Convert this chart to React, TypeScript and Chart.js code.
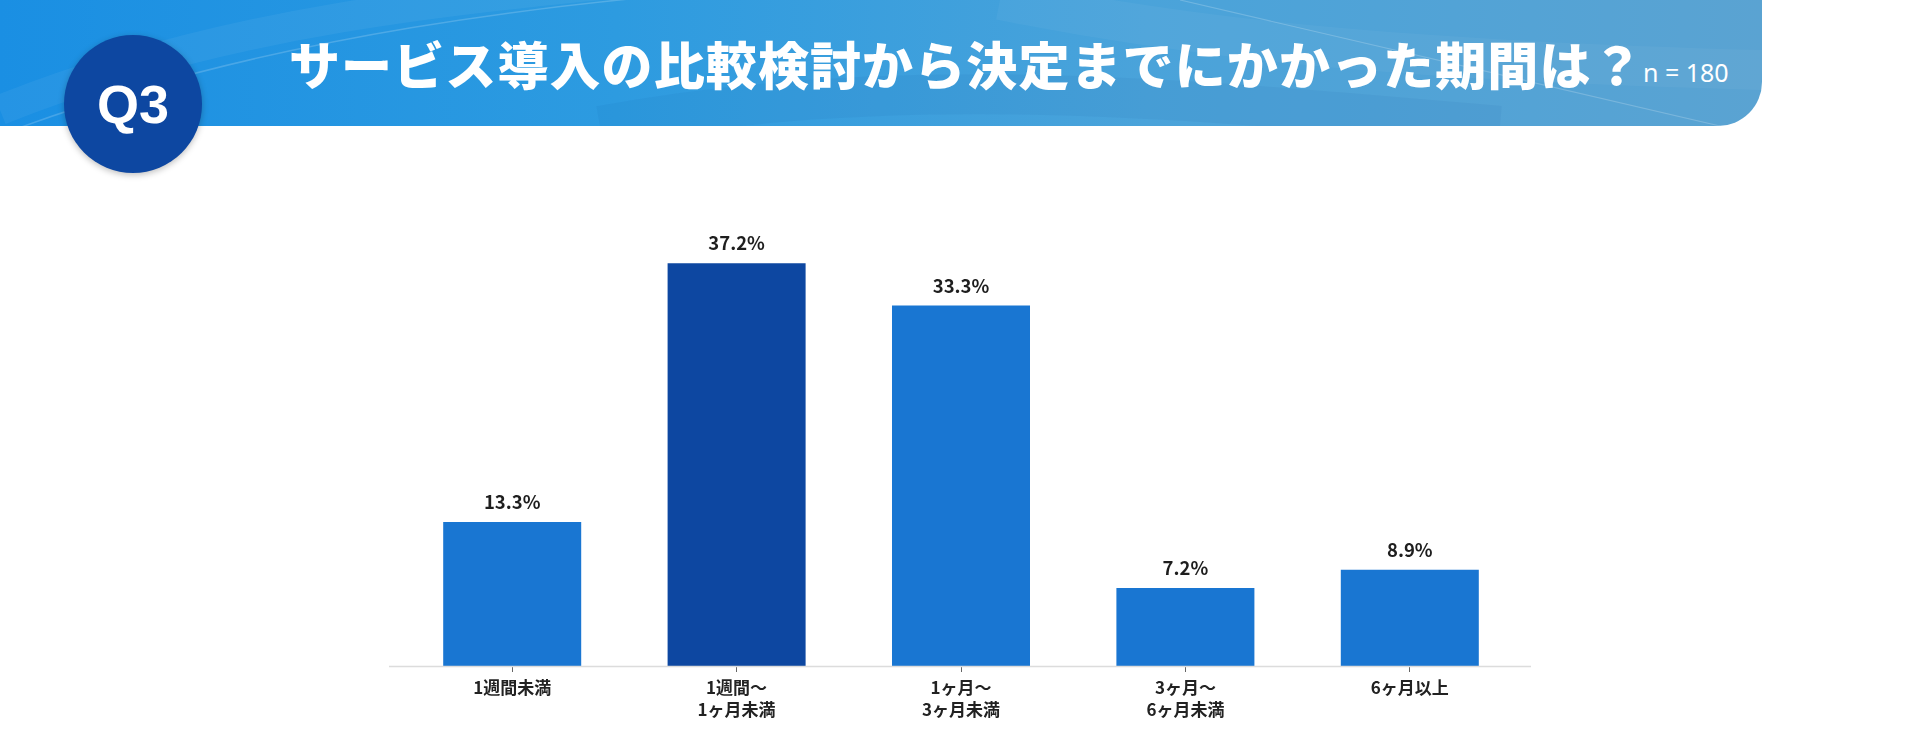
import React, { useRef, useEffect } from 'react';
import { Chart, registerables } from 'chart.js';

Chart.register(...registerables);

// ---- data ----
const categories: string[][] = [
  ['1週間未満'],
  ['1週間〜', '1ヶ月未満'],
  ['1ヶ月〜', '3ヶ月未満'],
  ['3ヶ月〜', '6ヶ月未満'],
  ['6ヶ月以上'],
];
const shares = [13.3, 37.2, 33.3, 7.2, 8.9];
const highlightIndex = 1;
const yMax = 40;

const TITLE = 'サービス導入の比較検討から決定までにかかった期間は？';
const SAMPLE = 'n = 180';
const QNO = 'Q3';

const JP = '"Noto Sans CJK JP", "Noto Sans", sans-serif';

// value labels above bars + extended baseline
const barLabels = {
  id: 'barLabels',
  afterDatasetsDraw(chart: Chart) {
    const { ctx, chartArea } = chart;
    ctx.save();
    ctx.strokeStyle = '#dcdcdc';
    ctx.lineWidth = 1.5;
    ctx.beginPath();
    ctx.moveTo(chartArea.left - 11, chartArea.bottom + 0.5);
    ctx.lineTo(chartArea.right + 9, chartArea.bottom + 0.5);
    ctx.stroke();

    ctx.fillStyle = '#1e1e1e';
    ctx.font = `bold 18.5px ${JP}`;
    ctx.textAlign = 'center';
    ctx.textBaseline = 'middle';
    chart.getDatasetMeta(0).data.forEach((bar: any, i: number) => {
      ctx.fillText(`${shares[i].toFixed(1)}%`, bar.x, bar.y - 20);
    });
    ctx.restore();
  },
};

const BarChart: React.FC = () => {
  const canvasRef = useRef<HTMLCanvasElement>(null);
  const chartRef = useRef<Chart | null>(null);

  useEffect(() => {
    if (!canvasRef.current) return;
    if (chartRef.current) chartRef.current.destroy();

    chartRef.current = new Chart(canvasRef.current, {
      type: 'bar',
      data: {
        labels: categories,
        datasets: [
          {
            data: shares,
            backgroundColor: shares.map((_, i) => (i === highlightIndex ? '#0d47a1' : '#1976d2')),
            borderWidth: 0,
            barPercentage: 0.615,
            categoryPercentage: 1,
          },
        ],
      },
      options: {
        responsive: true,
        maintainAspectRatio: false,
        animation: false,
        layout: { padding: { left: 400, right: 398, top: 83, bottom: 0 } },
        plugins: {
          legend: { display: false },
          tooltip: { enabled: false },
        },
        scales: {
          x: {
            grid: {
              offset: false,
              drawOnChartArea: false,
              drawTicks: true,
              tickLength: 6,
              color: '#666',
            },
            border: { display: false },
            ticks: {
              color: '#222',
              padding: 4,
              font: { family: JP, size: 17, weight: 'bold', lineHeight: 1.3 },
            },
            afterFit: (scale: any) => {
              scale.height = 78;
            },
          },
          y: {
            display: false,
            min: 0,
            max: yMax,
          },
        },
      },
      plugins: [barLabels],
    });

    return () => {
      if (chartRef.current) {
        chartRef.current.destroy();
        chartRef.current = null;
      }
    };
  }, []);

  return (
    <div style={{ position: 'absolute', left: 0, top: 150, width: 1920, height: 594 }}>
      <canvas ref={canvasRef} />
    </div>
  );
};

const Header: React.FC = () => (
  <>
    <div
      style={{
        position: 'absolute',
        left: 0,
        top: 0,
        width: 1762,
        height: 126,
        borderBottomRightRadius: 44,
        overflow: 'hidden',
        background: 'linear-gradient(90deg, #1a8fe3 0%, #2d9be0 35%, #4aa3da 65%, #5aa3d2 100%)',
      }}
    >
      <svg width="1762" height="126" style={{ position: 'absolute', left: 0, top: 0 }}>
        <path d="M0 135 C 250 40, 550 -5, 900 -20" stroke="rgba(255,255,255,0.18)" strokeWidth="1.5" fill="none" />
        <path d="M0 110 C 250 10, 500 -5, 760 -30" stroke="rgba(255,255,255,0.05)" strokeWidth="30" fill="none" />
        <path d="M1180 0 L 1720 126" stroke="rgba(255,255,255,0.2)" strokeWidth="1.2" fill="none" />
        <path d="M1000 0 C 1200 40, 1400 60, 1762 70" stroke="rgba(255,255,255,0.04)" strokeWidth="40" fill="none" />
        <path d="M600 126 C 900 70, 1200 100, 1500 126" stroke="rgba(0,60,140,0.05)" strokeWidth="40" fill="none" />
      </svg>
      <div
        style={{
          position: 'absolute',
          left: 289,
          top: 30,
          color: '#fff',
          fontFamily: JP,
          fontWeight: 900,
          fontSize: 51,
          lineHeight: '66px',
          letterSpacing: 1.1,
          whiteSpace: 'nowrap',
        }}
      >
        {TITLE}
      </div>
      <div
        style={{
          position: 'absolute',
          left: 1643,
          top: 55,
          color: '#fff',
          fontFamily: '"Noto Sans", sans-serif',
          fontSize: 25,
          lineHeight: '34px',
          whiteSpace: 'nowrap',
        }}
      >
        {SAMPLE}
      </div>
    </div>
    <div
      style={{
        position: 'absolute',
        left: 64,
        top: 35,
        width: 138,
        height: 138,
        borderRadius: '50%',
        background: '#0d47a1',
        boxShadow: '0 2px 6px rgba(0,0,0,0.25)',
        display: 'flex',
        alignItems: 'center',
        justifyContent: 'center',
        color: '#fff',
        fontFamily: '"Liberation Sans", Arial, sans-serif',
        fontWeight: 'bold',
        fontSize: 54,
      }}
    >
      {QNO}
    </div>
  </>
);

export default function App() {
  return (
    <div
      style={{
        position: 'absolute',
        left: 0,
        top: 0,
        width: 1920,
        height: 744,
        background: '#fff',
        overflow: 'hidden',
      }}
    >
      <Header />
      <BarChart />
    </div>
  );
}
